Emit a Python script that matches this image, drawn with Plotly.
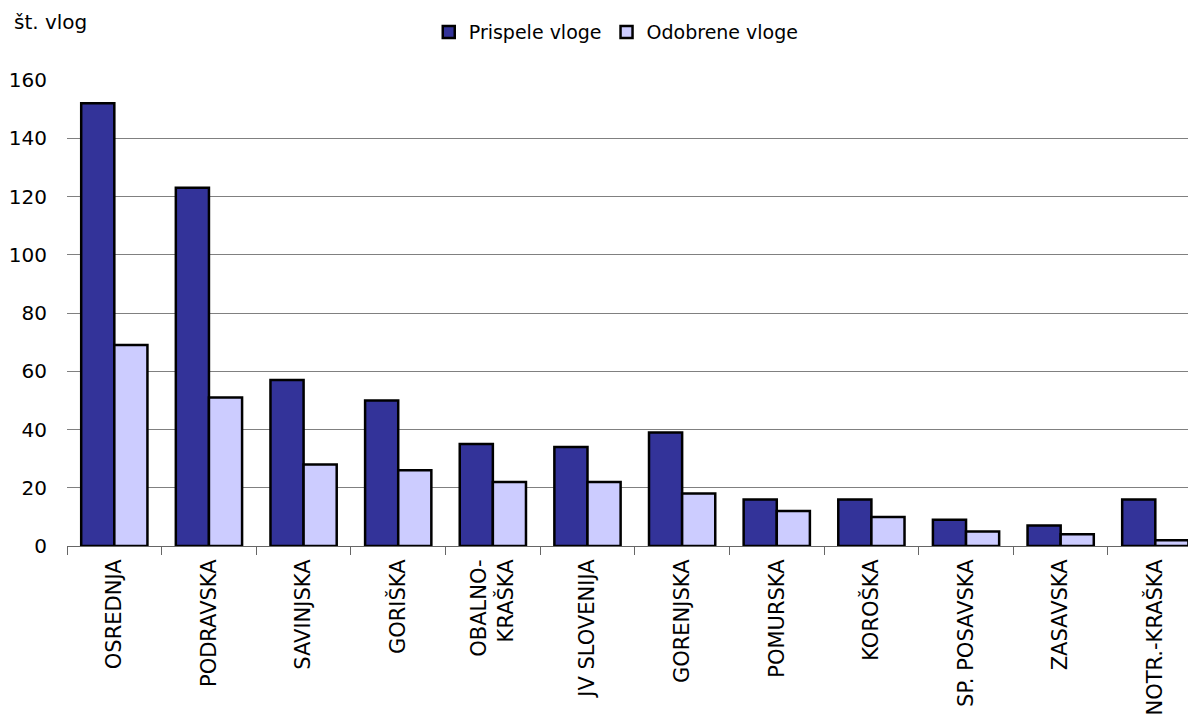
import plotly.graph_objects as go

categories = ["OSREDNJA", "PODRAVSKA", "SAVINJSKA", "GORIŠKA", "OBALNO-<br>KRAŠKA",
              "JV SLOVENIJA", "GORENJSKA", "POMURSKA", "KOROŠKA", "SP. POSAVSKA",
              "ZASAVSKA", "NOTR.-KRAŠKA"]
prispele = [152, 123, 57, 50, 35, 34, 39, 16, 16, 9, 7, 16]
odobrene = [69, 51, 28, 26, 22, 22, 18, 12, 10, 5, 4, 2]
y_ticks = [0, 20, 40, 60, 80, 100, 120, 140, 160]

FONT = "DejaVu Sans, sans-serif"

fig = go.Figure()
fig.add_trace(go.Bar(x=categories, y=prispele, name="Prispele vloge",
                     marker=dict(color="#333399", line=dict(color="black", width=2.5))))
fig.add_trace(go.Bar(x=categories, y=odobrene, name="Odobrene vloge",
                     marker=dict(color="#CCCCFF", line=dict(color="black", width=2.5))))

fig.update_layout(
    width=1188, height=708,
    margin=dict(l=59, r=0, t=72, b=170),
    paper_bgcolor="white", plot_bgcolor="white",
    font=dict(family=FONT, size=20, color="black"),
    barmode="group", bargap=0.30, bargroupgap=0,
    showlegend=True,
    legend=dict(orientation="h", xref="container", yref="container",
                x=0.512, xanchor="center", y=0.966, yanchor="middle",
                font=dict(size=19), itemwidth=30, traceorder="normal",
                tracegroupgap=0),
    xaxis=dict(range=[-0.5, 11.43], tickangle=-90, ticks="outside", tickson="boundaries",
               ticklen=8, tickcolor="#666666", showline=True, linecolor="#666666", linewidth=1,
               tickfont=dict(size=21), showgrid=False, automargin=False,
               ticklabelstandoff=4),
    yaxis=dict(range=[0, 160], tickvals=y_ticks, showgrid=True, gridcolor="#808080",
               gridwidth=1, zeroline=False, showline=False, ticks="",
               tickfont=dict(size=20), ticklabelstandoff=19, automargin=False),
    annotations=[dict(text="št. vlog", xref="paper", yref="paper", x=-0.0487, y=1.1245,
                      xanchor="left", yanchor="middle", showarrow=False,
                      font=dict(size=20))],
)

fig.write_html("out.html")
